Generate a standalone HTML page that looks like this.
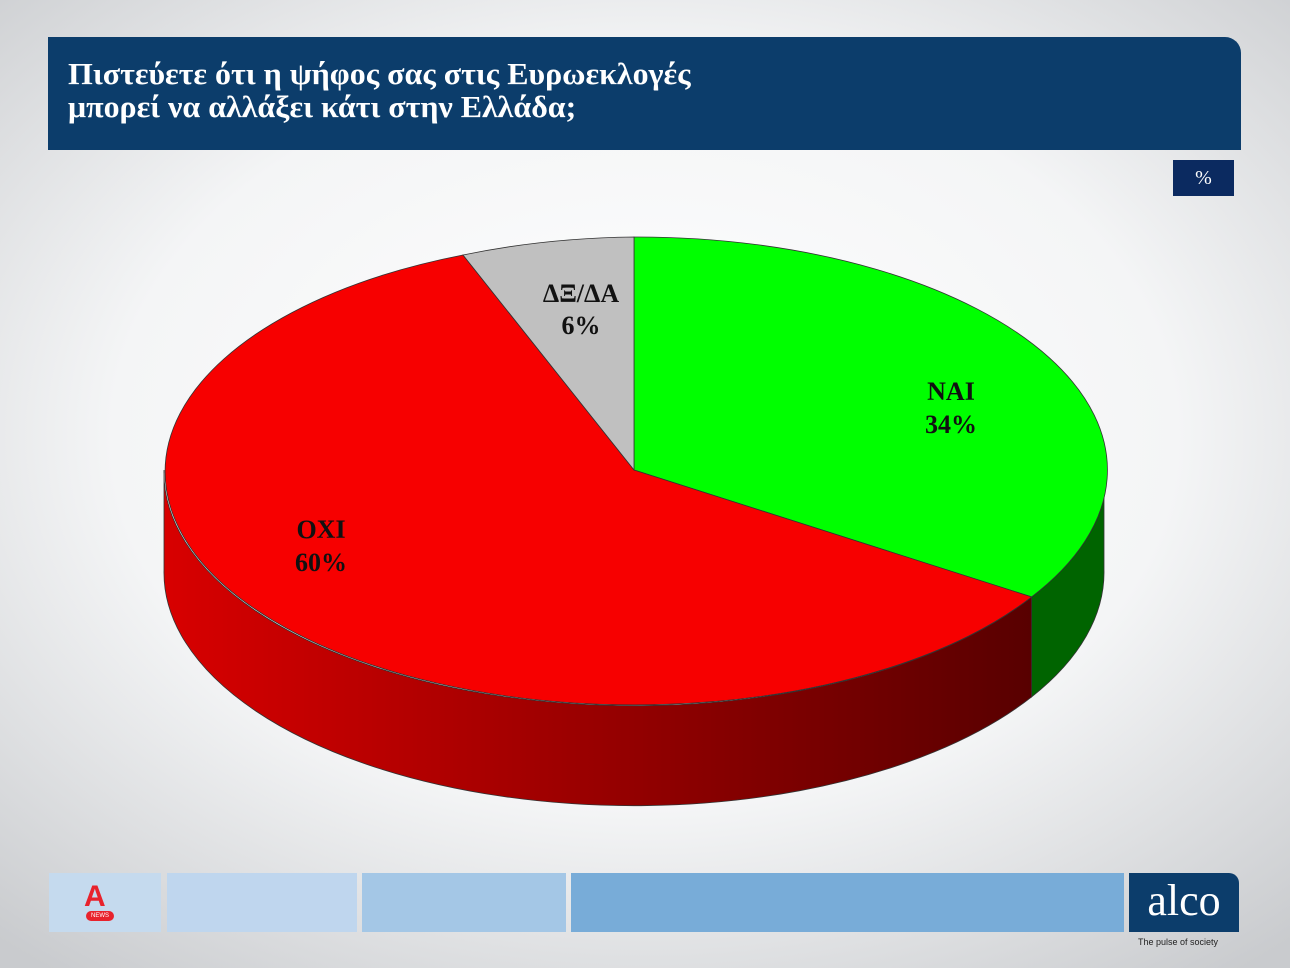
<!DOCTYPE html>
<html><head><meta charset="utf-8"><style>
body{margin:0;width:1290px;height:968px;overflow:hidden;font-family:"Liberation Serif",serif;}
.bg{position:absolute;left:0;top:0;width:1290px;height:968px;background:radial-gradient(ellipse 75% 70% at 50% 45%,#ffffff 0%,#f4f5f6 55%,#c9cbce 100%);}
.hdr{position:absolute;left:48px;top:37px;width:1193px;height:113px;background:#0c3d6b;border-top-right-radius:16px;}
.hdr div{position:absolute;left:20px;top:20px;color:#fff;font-weight:bold;font-size:31px;line-height:33px;transform:scaleX(1.03);transform-origin:left;}
.pct{position:absolute;left:1173px;top:160px;width:61px;height:36px;background:#0b2a60;color:#fff;font-size:20px;text-align:center;line-height:36px;}
.b{position:absolute;top:873px;height:59px;}
</style></head><body>
<div class="bg"></div>
<div class="hdr"><div>Πιστεύετε ότι η ψήφος σας στις Ευρωεκλογές<br>μπορεί να αλλάξει κάτι στην Ελλάδα;</div></div>
<div class="pct">%</div>
<svg style="position:absolute;left:0;top:0" width="1290" height="968">
<defs><linearGradient id="rg" x1="164" x2="1032" y1="0" y2="0" gradientUnits="userSpaceOnUse">
<stop offset="0" stop-color="#d80000"/><stop offset="1" stop-color="#580000"/></linearGradient></defs>
<g stroke="#333" stroke-width="0.8">
<path d="M1104,470 A470,233 0 0 1 1031.6,596.9 L1031.6,696.9 A470,233 0 0 0 1104,570 Z" fill="#006400"/>
<path d="M1031.6,596.9 A470,233 0 0 1 164,470 L164,570 A470,233 0 0 0 1031.6,696.9 Z" fill="url(#rg)"/>
<path d="M634,470 L634,237 A470,233 0 0 1 1031.6,596.9 Z" fill="#00ff00"/>
<path d="M634,470 L1031.6,596.9 A470,233 0 1 1 463,255 Z" fill="#f70000"/>
<path d="M634,470 L463,255 A470,233 0 0 1 634,237 Z" fill="#c0c0c0"/>
</g>
<g font-family="Liberation Serif,serif" font-weight="bold" font-size="26" text-anchor="middle" fill="#111">
<text x="581" y="302">ΔΞ/ΔΑ</text><text x="581" y="334">6%</text>
<text x="951" y="400">ΝΑΙ</text><text x="951" y="433">34%</text>
<text x="321" y="538">ΟΧΙ</text><text x="321" y="571">60%</text>
</g>
</svg>
<div class="b" style="left:49px;width:112px;background:#c5daee"></div>
<div class="b" style="left:167px;width:190px;background:#bfd6ee"></div>
<div class="b" style="left:362px;width:204px;background:#a4c7e6"></div>
<div class="b" style="left:571px;width:553px;background:#78acd8"></div>
<div class="b" style="left:1129px;width:110px;background:#0c3d6b;border-top-right-radius:10px;color:#fff;font-size:44px;text-align:center;line-height:56px;">alco</div>
<div style="position:absolute;left:84px;top:883px;width:30px;height:28px;color:#e8222c;font-family:'Liberation Sans',sans-serif;font-weight:bold;font-size:30px;line-height:28px;">A</div>
<div style="position:absolute;left:86px;top:911px;width:28px;height:10px;background:#e8222c;border-radius:5px;color:#fff;font-size:6px;text-align:center;line-height:10px;font-family:'Liberation Sans',sans-serif">NEWS</div>
<div style="position:absolute;left:1138px;top:937px;font-family:'Liberation Sans',sans-serif;font-size:9px;color:#222">The pulse of society</div>
</body></html>
